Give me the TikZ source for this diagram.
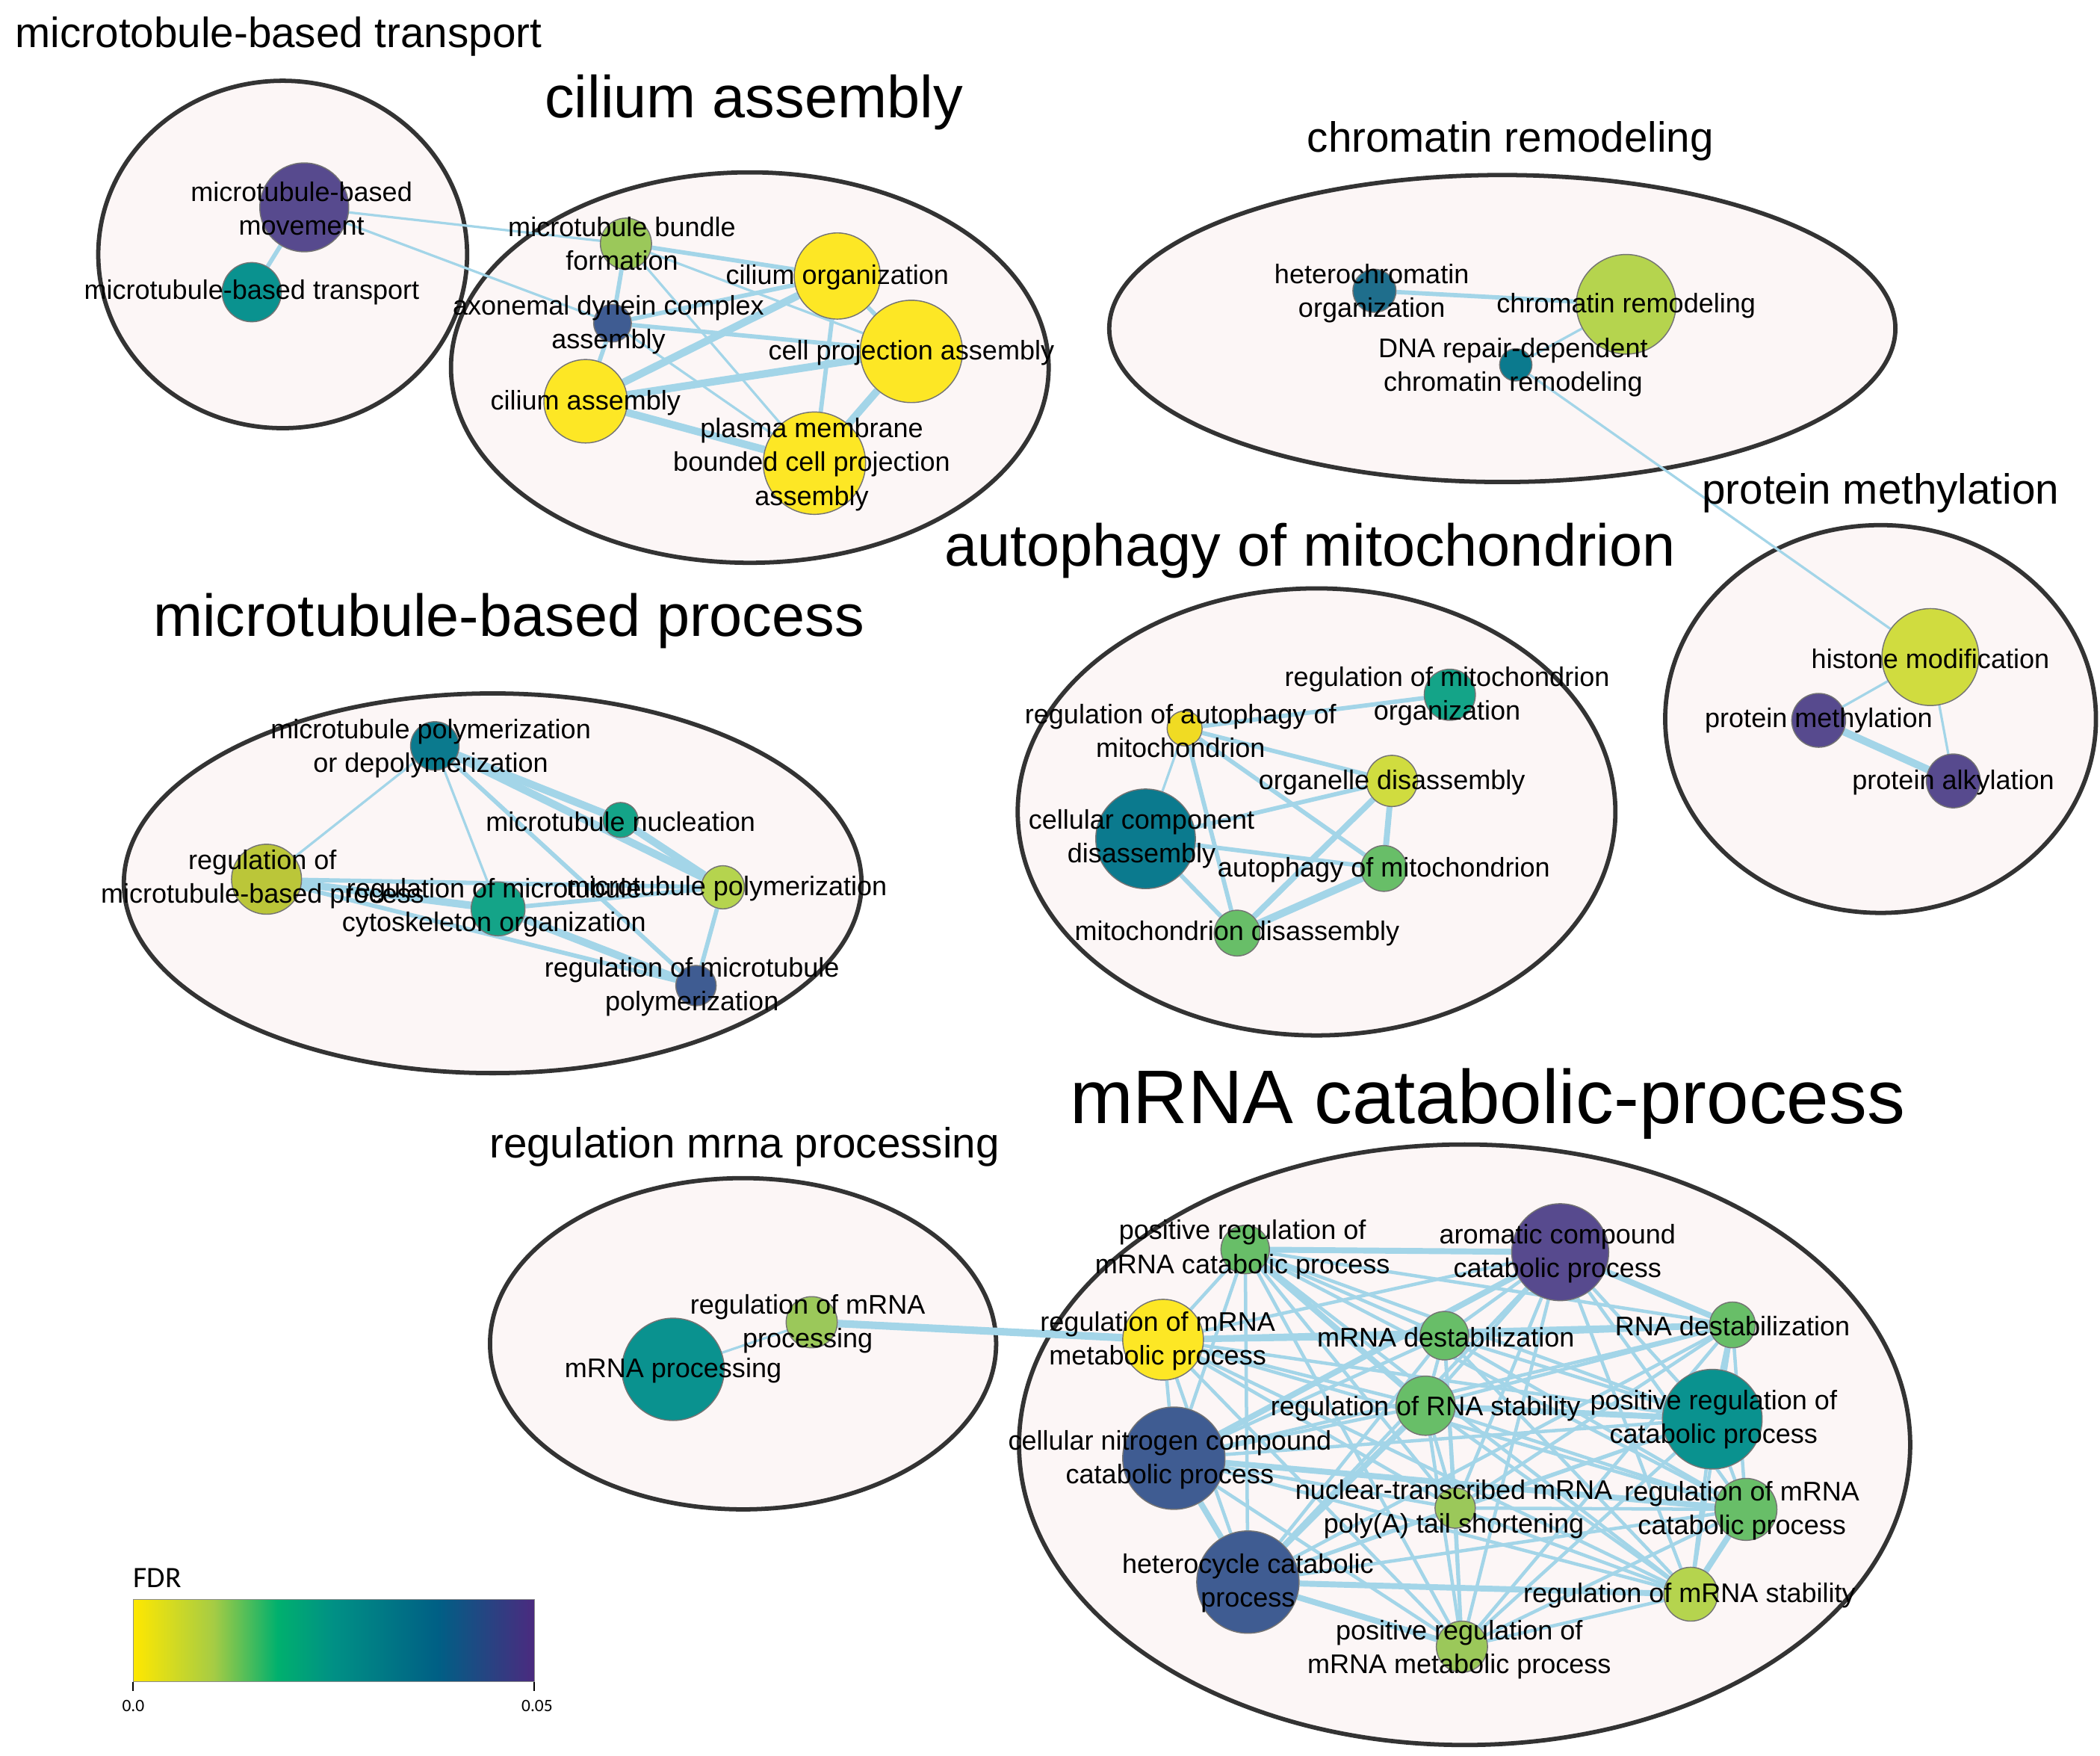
\documentclass[tikz,border=0pt]{standalone}
\usepackage{fontspec}
\setmainfont{Liberation Sans}
\newfontfamily\cbfont{Carlito}
\pgfdeclarelayer{bg}
\pgfdeclarelayer{edges}
\pgfsetlayers{bg,edges,main}
\definecolor{cYel}{HTML}{FDE725}
\definecolor{cYG}{HTML}{D0DC3F}
\definecolor{cLime}{HTML}{B5D44E}
\definecolor{cLG}{HTML}{9BC85A}
\definecolor{cG}{HTML}{68BE68}
\definecolor{cGT}{HTML}{14A488}
\definecolor{cTeal}{HTML}{0A928F}
\definecolor{cDT}{HTML}{0B7A8E}
\definecolor{cHet}{HTML}{1F6E8C}
\definecolor{cBlue}{HTML}{3F5C92}
\definecolor{cPurp}{HTML}{574A8E}
\definecolor{clfill}{HTML}{FCF6F6}
\definecolor{clline}{HTML}{333333}
\definecolor{edgec}{HTML}{A3D5E8}
\definecolor{cb0}{HTML}{FFE800}
\definecolor{cb1}{HTML}{A6CC44}
\definecolor{cb2}{HTML}{00B06E}
\definecolor{cb3}{HTML}{009085}
\definecolor{cb4}{HTML}{005F85}
\definecolor{cb5}{HTML}{4B2A7F}
\pgfdeclarehorizontalshading{viridisbar}{100bp}{color(0bp)=(cb0); color(25bp)=(cb0); color(35bp)=(cb1); color(43bp)=(cb2); color(50bp)=(cb3); color(63bp)=(cb4); color(75bp)=(cb5); color(100bp)=(cb5)}
\tikzset{
  clus/.style={fill=clfill, draw=clline, line width=1.6pt},
  nd/.style={circle, draw=black!55, line width=0.4pt, inner sep=0pt},
  lab/.style={font=\fontsize{10}{12.5}\selectfont, align=center, inner sep=0pt, text=black},
  ttlS/.style={font=\fontsize{15.7}{18}\selectfont, inner sep=0pt},
  ttlM/.style={font=\fontsize{22}{26}\selectfont, inner sep=0pt},
  ttlL/.style={font=\fontsize{28.2}{32}\selectfont, inner sep=0pt},
  e1/.style={draw=edgec, line width=0.9pt},
  e2/.style={draw=edgec, line width=1.6pt},
  e2m/.style={draw=edgec, line width=1.25pt},
  e3/.style={draw=edgec, line width=2.8pt},
  e3m/.style={draw=edgec, line width=2.2pt}
}
\begin{document}
\begin{tikzpicture}[x=0.5pt,y=-0.5pt]
\useasboundingbox (0,0) rectangle (1560,1304);
\begin{pgfonlayer}{bg}
\fill[white] (0,0) rectangle (1560,1304);
\draw[clus] (210,189) ellipse [x radius=137, y radius=129];
\draw[clus] (557,273) ellipse [x radius=222, y radius=145];
\draw[clus] (1116,244) ellipse [x radius=292, y radius=114];
\draw[clus] (1397,534) ellipse [x radius=160, y radius=144];
\draw[clus] (978,603) ellipse [x radius=222, y radius=166];
\draw[clus] (366,656) ellipse [x radius=274, y radius=141];
\draw[clus] (552,998) ellipse [x radius=188, y radius=123];
\draw[clus] (1088,1073) ellipse [x radius=331, y radius=223];
\end{pgfonlayer}

% titles
\node[ttlS] (t1) at (207,27) {microtobule-based transport};
\node[ttlM] (t2) at (560,76) {cilium assembly};
\node[ttlS] (t3) at (1122,105) {chromatin remodeling};
\node[ttlS] (t4) at (1397,366) {protein methylation};
\node[ttlM] (t5) at (973,409) {autophagy of mitochondrion};
\node[ttlM] (t6) at (378,461) {microtubule-based process};
\node[ttlS] (t7) at (553,852) {regulation mrna processing};
\node[ttlL] (t8) at (1105,820) {mRNA catabolic-process};

% ---- nodes: cluster 1 & 2
\node[nd, fill=cPurp, minimum size=33pt] (mtbm) at (226,154) {};
\node[nd, fill=cTeal, minimum size=22pt] (mtbt) at (187,217) {};
\node[nd, fill=cLG, minimum size=19pt] (mbf) at (465,181) {};
\node[nd, fill=cYel, minimum size=32pt] (ciorg) at (622,205) {};
\node[nd, fill=cBlue, minimum size=14pt] (adca) at (455,240) {};
\node[nd, fill=cYel, minimum size=38pt] (cpa) at (677,261) {};
\node[nd, fill=cYel, minimum size=31pt] (ca) at (435,298) {};
\node[nd, fill=cYel, minimum size=38pt] (pmb) at (605,344) {};
% cluster 3
\node[nd, fill=cHet, minimum size=16pt] (het) at (1021,216) {};
\node[nd, fill=cLime, minimum size=37pt] (chr) at (1208,226) {};
\node[nd, fill=cDT, minimum size=12pt] (dna) at (1126,271) {};
% cluster 4
\node[nd, fill=cYG, minimum size=36pt] (hist) at (1434,488) {};
\node[nd, fill=cPurp, minimum size=20pt] (pme) at (1351,535) {};
\node[nd, fill=cPurp, minimum size=20pt] (pal) at (1451,580) {};
% cluster 5
\node[nd, fill=cGT, minimum size=19pt] (rmo) at (1077,516) {};
\node[nd, fill=cYel!95!black, minimum size=13pt] (ram) at (880,541) {};
\node[nd, fill=cYG, minimum size=19pt] (orgd) at (1034,580) {};
\node[nd, fill=cDT, minimum size=37pt] (ccd) at (851,623) {};
\node[nd, fill=cG, minimum size=17pt] (autm) at (1028,645) {};
\node[nd, fill=cG, minimum size=17pt] (mitd) at (919,693) {};
% cluster 6
\node[nd, fill=cDT, minimum size=18pt] (mpd) at (323,554) {};
\node[nd, fill=cGT, minimum size=13pt] (mnuc) at (461,609) {};
\node[nd, fill=cYG!90!black, minimum size=26pt] (rmbp) at (198,653) {};
\node[nd, fill=cGT, minimum size=20pt] (rmco) at (370,675) {};
\node[nd, fill=cLime, minimum size=16pt] (mpol) at (537,659) {};
\node[nd, fill=cBlue, minimum size=15pt] (rmp) at (517,732) {};
% cluster 7
\node[nd, fill=cLG, minimum size=19pt] (rmpr) at (603,982) {};
\node[nd, fill=cTeal, minimum size=38pt] (mrp) at (500,1017) {};
% cluster 8
\node[nd, fill=cG, minimum size=18pt] (prmcp) at (925,928) {};
\node[nd, fill=cPurp, minimum size=36pt] (arom) at (1159,930) {};
\node[nd, fill=cYel, minimum size=30pt] (rmmp) at (864,995) {};
\node[nd, fill=cG, minimum size=18pt] (mdest) at (1073,992) {};
\node[nd, fill=cG, minimum size=17pt] (rdest) at (1287,984) {};
\node[nd, fill=cG, minimum size=22pt] (rrs) at (1059,1044) {};
\node[nd, fill=cTeal, minimum size=37pt] (prcp) at (1272,1054) {};
\node[nd, fill=cBlue, minimum size=38pt] (cnccp) at (872,1083) {};
\node[nd, fill=cLG, minimum size=15pt] (ntm) at (1081,1120) {};
\node[nd, fill=cG, minimum size=23pt] (rmcp) at (1297,1121) {};
\node[nd, fill=cBlue, minimum size=38pt] (hcp) at (927,1175) {};
\node[nd, fill=cLime, minimum size=20pt] (rms) at (1256,1184) {};
\node[nd, fill=cLG, minimum size=19pt] (prmmp) at (1086,1223) {};

% ---- edges
\begin{pgfonlayer}{edges}
\draw[e2] (mtbm) -- (mtbt);
\draw[e1] (mtbm) -- (mbf);
\draw[e1] (mtbm) -- (adca);
\foreach \a/\b in {mbf/cpa, mbf/pmb, adca/pmb} \draw[e1] (\a) -- (\b);
\foreach \a/\b in {mbf/ciorg, mbf/adca, adca/ciorg, adca/cpa, adca/ca, ciorg/pmb, ciorg/cpa} \draw[e2] (\a) -- (\b);
\foreach \a/\b in {ca/ciorg, ca/cpa, ca/pmb, cpa/pmb} \draw[e3] (\a) -- (\b);
\draw[e2] (het) -- (chr);
\draw[e1] (dna) -- (chr);
\draw[e1] (dna) -- (hist);
\draw[e1] (hist) -- (pme);
\draw[e1] (hist) -- (pal);
\draw[e3] (pme) -- (pal);
\draw[e1] (ram) -- (ccd);
\foreach \a/\b in {ram/rmo, ram/orgd, ram/autm, ram/mitd, ccd/orgd, ccd/autm, ccd/mitd} \draw[e2] (\a) -- (\b);
\foreach \a/\b in {orgd/autm, orgd/mitd} \draw[e2, line width=2.2pt] (\a) -- (\b);
\draw[e3] (autm) -- (mitd);
\foreach \a/\b in {mpd/rmbp, mpd/rmco} \draw[e1] (\a) -- (\b);
\foreach \a/\b in {mpd/rmp, rmbp/mpol, rmco/mpol, mpol/rmp, rmbp/rmp} \draw[e2] (\a) -- (\b);
\foreach \a/\b in {mpd/mnuc, mpd/mpol, mnuc/mpol, rmbp/rmco, rmco/rmp} \draw[e3] (\a) -- (\b);
\draw[e1] (rmpr) -- (mrp);
\draw[e3] (rmpr) -- (rmmp);
\foreach \a [count=\i] in {prmcp,arom,rmmp,mdest,rdest,rrs,prcp,cnccp,ntm,rmcp,hcp,rms,prmmp}{
  \foreach \b [count=\j] in {prmcp,arom,rmmp,mdest,rdest,rrs,prcp,cnccp,ntm,rmcp,hcp,rms,prmmp}{
    \ifnum\j>\i \draw[e2m] (\a) -- (\b); \fi
  }
}
\foreach \a/\b in {prmcp/arom, rmmp/mdest, mdest/rdest, rmmp/rdest, arom/rdest, cnccp/hcp, hcp/rms, cnccp/rmcp, arom/cnccp, rrs/hcp, rdest/prcp, rrs/prcp, prmcp/rrs, hcp/prmmp, rms/rmcp}
  \draw[e3m] (\a) -- (\b);
\end{pgfonlayer}

% ---- labels
\node[lab] (l-mtbm) at (224,155) {microtubule-based\\movement};
\node[lab] (l-mtbt) at (187,217) {microtubule-based transport};
\node[lab] (l-mbf) at (462,181) {microtubule bundle\\formation};
\node[lab] (l-ciorg) at (622,206) {cilium organization};
\node[lab] (l-adca) at (452,241) {axonemal dynein complex\\assembly};
\node[lab] (l-cpa) at (677,262) {cell projection assembly};
\node[lab] (l-ca) at (435,299) {cilium assembly};
\node[lab] (l-pmb) at (603,345) {plasma membrane\\bounded cell projection\\assembly};
\node[lab] (l-het) at (1019,218) {heterochromatin\\organization};
\node[lab] (l-chr) at (1208,227) {chromatin remodeling};
\node[lab] (l-dna) at (1124,273) {DNA repair-dependent\\chromatin remodeling};
\node[lab] (l-hist) at (1434,489) {histone modification};
\node[lab] (l-pme) at (1351,535) {protein methylation};
\node[lab] (l-pal) at (1451,581) {protein alkylation};
\node[lab] (l-rmo) at (1075,517) {regulation of mitochondrion\\organization};
\node[lab] (l-ram) at (877,543) {regulation of autophagy of\\mitochondrion};
\node[lab] (l-orgd) at (1034,581) {organelle disassembly};
\node[lab] (l-ccd) at (848,623) {cellular component\\disassembly};
\node[lab] (l-autm) at (1028,646) {autophagy of mitochondrion};
\node[lab] (l-mitd) at (919,693) {mitochondrion disassembly};
\node[lab] (l-mpd) at (320,556) {microtubule polymerization\\or depolymerization};
\node[lab] (l-mnuc) at (461,610) {microtubule nucleation};
\node[lab] (l-rmbp) at (195,653) {regulation of\\microtubule-based process};
\node[lab] (l-rmco) at (367,674) {regulation of microtubule\\cytoskeleton organization};
\node[lab] (l-mpol) at (540,660) {microtubule polymerization};
\node[lab] (l-rmp) at (514,733) {regulation of microtubule\\polymerization};
\node[lab] (l-rmpr) at (600,983) {regulation of mRNA\\processing};
\node[lab] (l-mrp) at (500,1018) {mRNA processing};
\node[lab] (l-prmcp) at (923,928) {positive regulation of\\mRNA catabolic process};
\node[lab] (l-arom) at (1157,931) {aromatic compound\\catabolic process};
\node[lab] (l-rmmp) at (860,996) {regulation of mRNA\\metabolic process};
\node[lab] (l-mdest) at (1074,993) {mRNA destabilization};
\node[lab] (l-rdest) at (1287,985) {RNA destabilization};
\node[lab] (l-rrs) at (1059,1046) {regulation of RNA stability};
\node[lab] (l-prcp) at (1273,1054) {positive regulation of\\catabolic process};
\node[lab] (l-cnccp) at (869,1084) {cellular nitrogen compound\\catabolic process};
\node[lab] (l-ntm) at (1080,1121) {nuclear-transcribed mRNA\\poly(A) tail shortening};
\node[lab] (l-rmcp) at (1294,1122) {regulation of mRNA\\catabolic process};
\node[lab] (l-hcp) at (927,1176) {heterocycle catabolic\\process};
\node[lab] (l-rms) at (1255,1185) {regulation of mRNA stability};
\node[lab] (l-prmmp) at (1084,1225) {positive regulation of\\mRNA metabolic process};

% ---- colour bar
\shade[shading=viridisbar] (99,1188) rectangle (397,1249);
\draw[black!45, line width=0.4pt] (99,1188) rectangle (397,1249);
\coordinate (tk0) at (99,1249);
\coordinate (tk1) at (397,1249);
\draw[line width=0.5pt] (tk0) -- ++(0,7);
\draw[line width=0.5pt] (tk1) -- ++(0,7);
\node[font=\cbfont\fontsize{11}{13}\selectfont, inner sep=0pt] (fdr) at (117,1172) {FDR};
\node[font=\cbfont\fontsize{6.5}{8}\selectfont, inner sep=0pt] (v0) at (99,1267) {0.0};
\node[font=\cbfont\fontsize{6.5}{8}\selectfont, inner sep=0pt] (v1) at (399,1267) {0.05};
\end{tikzpicture}
\end{document}
